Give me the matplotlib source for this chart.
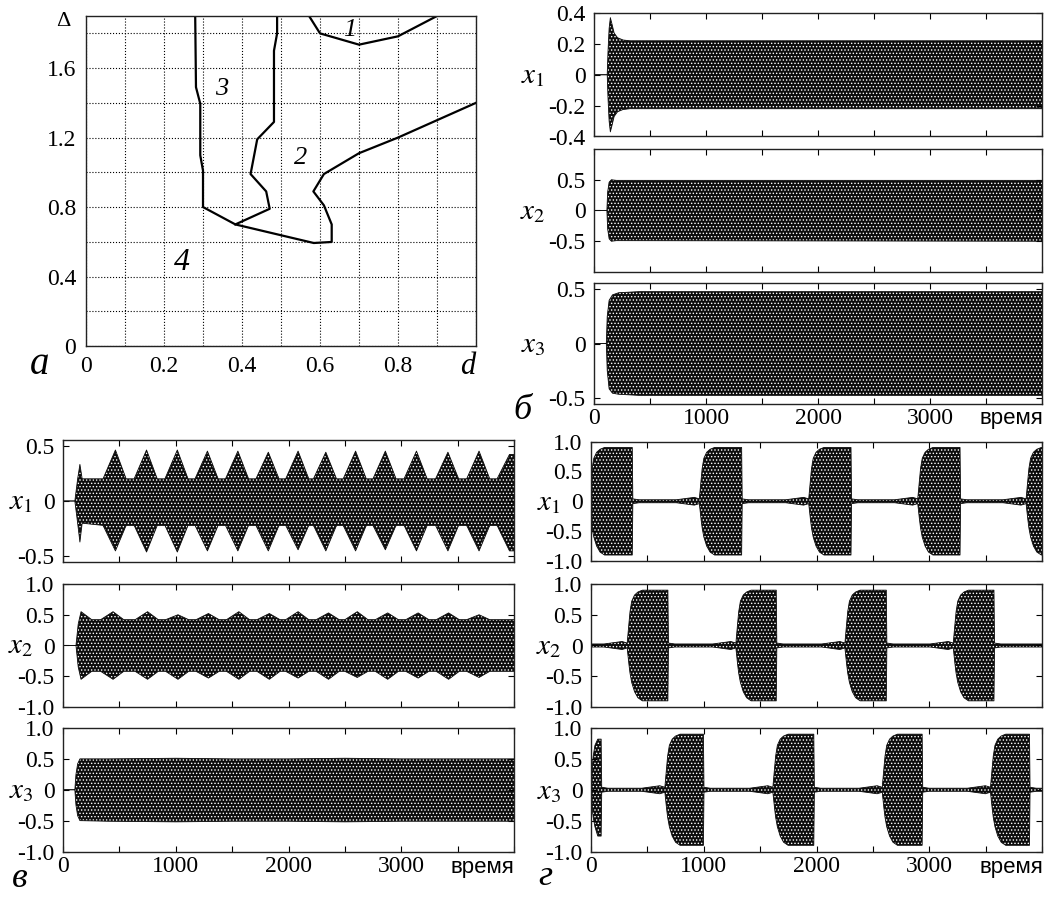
import numpy as np
import matplotlib.pyplot as plt

plt.rcParams['font.family'] = ['Liberation Serif', 'DejaVu Serif']
plt.rcParams['mathtext.fontset'] = 'stix'
plt.rcParams['axes.unicode_minus'] = False
plt.rcParams['hatch.linewidth'] = 0.6

# ---- panel а : region boundaries on the (d, Delta) plane
line3_d = [0.28, 0.282, 0.293, 0.293, 0.30, 0.30, 0.383, 0.584, 0.63, 0.63, 0.61, 0.583, 0.61, 0.70, 0.80, 1.0]
line3_D = [1.90, 1.49, 1.395, 1.098, 1.01, 0.80, 0.70, 0.593, 0.599, 0.70, 0.81, 0.89, 0.99, 1.11, 1.20, 1.40]
line2_d = [0.383, 0.471, 0.462, 0.422, 0.439, 0.482, 0.482, 0.49, 0.49]
line2_D = [0.70, 0.79, 0.89, 0.99, 1.19, 1.29, 1.70, 1.80, 1.90]
line1_d = [0.572, 0.60, 0.70, 0.80, 0.90]
line1_D = [1.90, 1.80, 1.735, 1.783, 1.90]
region_names = ['1', '2', '3', '4']
region_d = [0.675, 0.55, 0.347, 0.246]
region_D = [1.82, 1.08, 1.48, 0.48]

# ---- panel б : envelopes of x1, x2, x3
b1_t = [0, 118, 125, 135, 146, 160, 180, 210, 260, 320, 4000]
b1_up = [0, 0, 0.15, 0.30, 0.37, 0.33, 0.27, 0.24, 0.225, 0.22, 0.22]
b1_lo = [0, 0, -0.15, -0.30, -0.37, -0.33, -0.27, -0.24, -0.225, -0.22, -0.22]
b2_t = [0, 115, 122, 135, 155, 200, 4000]
b2_up = [0, 0, 0.30, 0.46, 0.50, 0.49, 0.49]
b2_lo = [0, 0, -0.30, -0.46, -0.50, -0.49, -0.50]
b3_t = [0, 110, 118, 135, 165, 220, 400, 4000]
b3_up = [0, 0, 0.25, 0.40, 0.45, 0.47, 0.48, 0.48]
b3_lo = [0, 0, -0.25, -0.42, -0.46, -0.47, -0.48, -0.48]

# ---- panel в
v1_on_t = [0, 105, 130, 150, 170]
v1_on_up = [0, 0, 0.20, 0.33, 0.20]
v1_on_lo = [0, 0, -0.20, -0.37, -0.20]
v1_peak_t = [465, 741, 1014, 1281, 1551, 1821, 2085, 2331, 2595, 2859, 3135, 3414, 3690, 3960]
v1_peak_up = [0.46, 0.46, 0.46, 0.45, 0.45, 0.44, 0.45, 0.44, 0.45, 0.45, 0.45, 0.44, 0.45, 0.42]
v1_peak_lo = [-0.45, -0.46, -0.46, -0.45, -0.45, -0.45, -0.44, -0.45, -0.45, -0.44, -0.45, -0.45, -0.45, -0.45]
v1_valley = (0.20, -0.22)

v2_on_t = [0, 115, 135, 160, 255]
v2_on_up = [0, 0, 0.35, 0.55, 0.42]
v2_on_lo = [0, 0, -0.35, -0.55, -0.42]
v2_peak_t = [444, 750, 1020, 1290, 1560, 1830, 2085, 2355, 2610, 2880, 3150, 3420, 3690]
v2_peak_up = [0.55, 0.55, 0.50, 0.52, 0.55, 0.52, 0.55, 0.53, 0.55, 0.53, 0.53, 0.53, 0.50]
v2_peak_lo = [-0.55, -0.55, -0.55, -0.53, -0.55, -0.55, -0.53, -0.55, -0.52, -0.55, -0.53, -0.55, -0.52]
v2_valley = (0.42, -0.42)

v3_t = [0, 105, 115, 130, 150, 400, 1000, 1500, 2000, 2500, 3000, 3500, 4000]
v3_up = [0, 0, 0.25, 0.42, 0.50, 0.50, 0.51, 0.50, 0.50, 0.51, 0.50, 0.50, 0.50]
v3_lo = [0, 0, -0.25, -0.42, -0.50, -0.51, -0.52, -0.51, -0.51, -0.52, -0.51, -0.51, -0.51]

# ---- panel г : bursts (start / end times)
g_burst_dt = [0, 10, 25, 50, 80, 120, 180]
g_burst_up = [0.35, 0.55, 0.72, 0.82, 0.87, 0.90, 0.90]
g_burst_lo = [-0.30, -0.45, -0.60, -0.75, -0.85, -0.90, -0.90]
g_swell_dt = [-220, -120, -60, -15]
g_swell_amp = [0.025, 0.05, 0.065, 0.04]
g_quiet = 0.025
g1_start = [0, 976, 1946, 2913, 3874]
g1_end = [366, 1336, 2306, 3273, 4000]
g2_start = [336, 1300, 2267, 3228]
g2_end = [682, 1643, 2619, 3574]
g3_start = [10, 670, 1628, 2598, 3558]
g3_end = [90, 997, 1976, 2937, 3889]

W, H = 1051, 897
fig = plt.figure(figsize=(W / 100, H / 100), dpi=100)
TICK_FS = 17


def add_ax(l, r, t, b):
    return fig.add_axes([l / W, 1 - b / H, (r - l) / W, (b - t) / H])


def peaks_env(on_t, on_up, on_lo, pk_t, pk_up, pk_lo, valley):
    t, up, lo = list(on_t), list(on_up), list(on_lo)
    for p, u, l in zip(pk_t, pk_up, pk_lo):
        for tt, uu, ll in ((p - 110, valley[0], valley[1]), (p, u, l), (p + 95, valley[0], valley[1])):
            if tt > t[-1] and tt <= 4000:
                t.append(tt); up.append(uu); lo.append(ll)
    if t[-1] < 4000:
        t.append(4000); up.append(up[-1]); lo.append(lo[-1])
    return t, up, lo


def burst_env(starts, ends):
    t, up, lo = [0], [g_quiet], [-g_quiet]
    for s, e in zip(starts, ends):
        for dt, a in zip(g_swell_dt, g_swell_amp):
            if s + dt > t[-1]:
                t.append(s + dt); up.append(a); lo.append(-a)
        for dt, u, l in zip(g_burst_dt, g_burst_up, g_burst_lo):
            if s + dt > t[-1] and s + dt < e:
                t.append(s + dt); up.append(u); lo.append(l)
        t.append(e); up.append(up[-1]); lo.append(lo[-1])
        if e < 4000:
            t += [e + 5, e + 60]; up += [0.04, g_quiet]; lo += [-0.04, -g_quiet]
    if t[-1] < 4000:
        t.append(4000); up.append(g_quiet); lo.append(-g_quiet)
    return t, up, lo


def draw_signal(ax, t, up, lo):
    ax.fill_between(t, lo, up, facecolor='#0c0c0c', edgecolor='white', hatch='.....', linewidth=0)
    ax.plot(t, up, color='#0c0c0c', lw=0.6)
    ax.plot(t, lo, color='#0c0c0c', lw=0.6)


def style_ts(ax, ylim, yticks, ylabels, bottom):
    ax.set_xlim(0, 4000)
    ax.set_ylim(*ylim)
    ax.set_xticks(np.arange(0, 4001, 500))
    ax.set_yticks(yticks)
    ax.set_yticklabels(ylabels)
    ax.tick_params(direction='in', top=True, right=True, length=4, width=0.8,
                   labelsize=TICK_FS, pad=6)
    ax.tick_params(axis='x', pad=3)
    if bottom:
        ax.set_xticklabels(['0', '', '1000', '', '2000', '', '3000', '', ''])
    else:
        ax.set_xticklabels([])
    for s in ax.spines.values():
        s.set_linewidth(1.0)
        s.set_color('#222222')


# ================= panel а
ax = add_ax(86, 476, 16, 346)
ax.plot(line3_d, line3_D, color='black', lw=1.6)
ax.plot(line2_d, line2_D, color='black', lw=1.6)
ax.plot(line1_d, line1_D, color='black', lw=1.6)
for name, d, D in zip(region_names, region_d, region_D):
    ax.text(d, D, name, fontsize=23 if name == '4' else 19, style='italic',
            ha='center', va='center')
ax.set_xlim(0, 1.0)
ax.set_ylim(0, 1.9)
ax.set_xticks(np.arange(0, 1.01, 0.1))
ax.set_xticklabels(['0', '', '0.2', '', '0.4', '', '0.6', '', '0.8', '', ''])
ax.set_yticks(np.arange(0, 1.81, 0.2))
ax.set_yticklabels(['0', '', '0.4', '', '0.8', '', '1.2', '', '1.6', ''])
ax.grid(True, color='black', linestyle=':', linewidth=0.8)
ax.tick_params(length=0, labelsize=TICK_FS, pad=7)
for s in ax.spines.values():
    s.set_linewidth(1.0)
    s.set_color('#222222')
fig.text(63 / W, 1 - 22 / H, 'Δ', fontsize=16, ha='center', va='center')
fig.text(468 / W, 1 - 366 / H, 'd', fontsize=22, style='italic', ha='center', va='center')
fig.text(40 / W, 1 - 364 / H, 'а', fontsize=28, style='italic', ha='center', va='center')

# ================= panel б
tick4 = [-0.4, -0.2, 0, 0.2, 0.4]
lab4 = ['-0.4', '-0.2', '0', '0.2', '0.4']
tick5 = [-0.5, 0, 0.5]
lab5 = ['-0.5', '0', '0.5']
tick10 = [-1.0, -0.5, 0, 0.5, 1.0]
lab10 = ['-1.0', '-0.5', '0', '0.5', '1.0']

ax = add_ax(594, 1042, 13, 136.5)
draw_signal(ax, b1_t, b1_up, b1_lo)
style_ts(ax, (-0.4, 0.4), tick4, lab4, False)
ax = add_ax(594, 1042, 149, 272)
draw_signal(ax, b2_t, b2_up, b2_lo)
style_ts(ax, (-1.0, 1.0), tick5, lab5, False)
ax = add_ax(594, 1042, 283, 404)
draw_signal(ax, b3_t, b3_up, b3_lo)
style_ts(ax, (-0.56, 0.56), tick5, lab5, True)
for k, yc in enumerate([76, 212, 345]):
    fig.text(533 / W, 1 - yc / H, '$x_{%d}$' % (k + 1), fontsize=21, ha='center', va='center')
fig.text(1043 / W, 1 - 418 / H, 'время', family='Liberation Sans', fontsize=16, ha='right', va='center')
fig.text(522 / W, 1 - 410 / H, 'б', fontsize=26, style='italic', ha='center', va='center')

# ================= panel в
ax = add_ax(63, 514, 440, 562)
draw_signal(ax, *peaks_env(v1_on_t, v1_on_up, v1_on_lo, v1_peak_t, v1_peak_up, v1_peak_lo, v1_valley))
style_ts(ax, (-0.55, 0.55), tick5, lab5, False)
ax = add_ax(63, 514, 584, 707)
draw_signal(ax, *peaks_env(v2_on_t, v2_on_up, v2_on_lo, v2_peak_t, v2_peak_up, v2_peak_lo, v2_valley))
style_ts(ax, (-1.0, 1.0), tick10, lab10, False)
ax = add_ax(63, 514, 728, 851.5)
draw_signal(ax, v3_t, v3_up, v3_lo)
style_ts(ax, (-1.0, 1.0), tick10, lab10, True)
for k, yc in enumerate([502, 646, 791]):
    fig.text(21 / W, 1 - yc / H, '$x_{%d}$' % (k + 1), fontsize=21, ha='center', va='center')
fig.text(514 / W, 1 - 867 / H, 'время', family='Liberation Sans', fontsize=16, ha='right', va='center')
fig.text(20 / W, 1 - 878 / H, 'в', fontsize=26, style='italic', ha='center', va='center')

# ================= panel г
for k, (st, en, top, bot) in enumerate([(g1_start, g1_end, 441.5, 561),
                                         (g2_start, g2_end, 584, 707),
                                         (g3_start, g3_end, 728, 851.5)]):
    ax = add_ax(591, 1042, top, bot)
    draw_signal(ax, *burst_env(st, en))
    style_ts(ax, (-1.0, 1.0), tick10, lab10, k == 2)
    fig.text(549 / W, 1 - ((top + bot) / 2 + 2) / H, '$x_{%d}$' % (k + 1), fontsize=21,
             ha='center', va='center')
fig.text(1043 / W, 1 - 867 / H, 'время', family='Liberation Sans', fontsize=16, ha='right', va='center')
fig.text(545 / W, 1 - 876 / H, 'г', fontsize=26, style='italic', ha='center', va='center')

fig.savefig('out.png', dpi=100)
